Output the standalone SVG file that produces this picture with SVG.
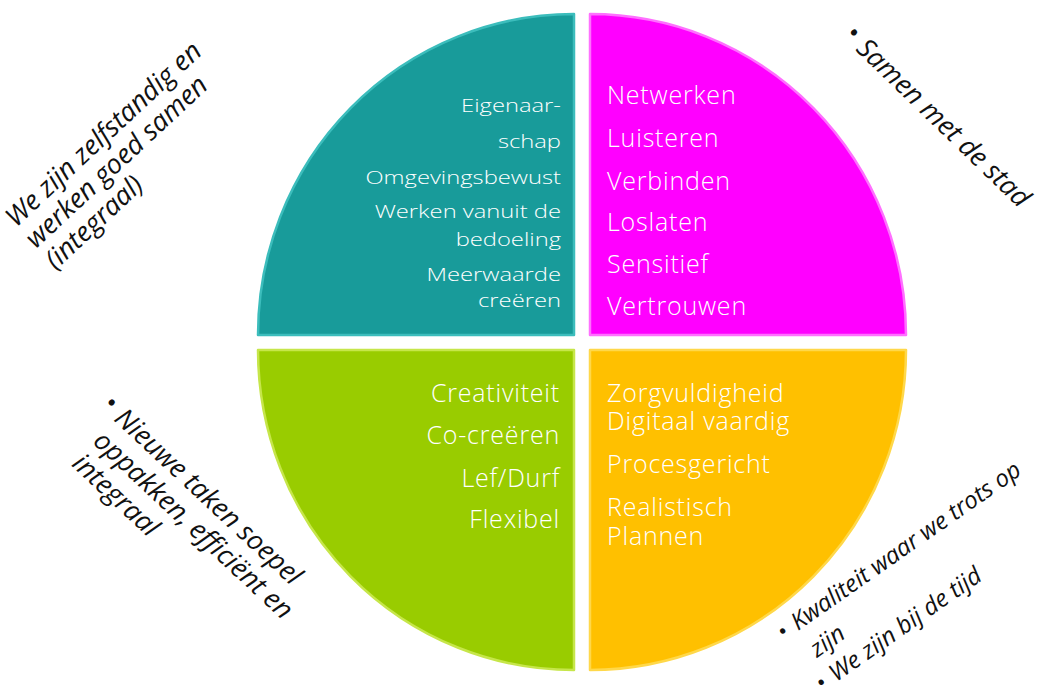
<svg xmlns="http://www.w3.org/2000/svg" width="1054" height="695" viewBox="0 0 1054 695">
<style>
.q{stroke-width:2.5;stroke-linejoin:round}
.lbl{font-family:"Open Sans","Noto Sans","Liberation Sans",sans-serif;fill:#ffffff;font-size:25px;font-weight:300;letter-spacing:0.8px}
.r{text-anchor:end}
.tl{font-size:19px;letter-spacing:0}
.note{font-family:"Open Sans","Noto Sans","Liberation Sans",sans-serif;fill:#111111;font-style:italic;font-size:27px}
.b{font-style:normal}
</style>
<rect width="1054" height="695" fill="#ffffff"/>
<g id="connectors"></g>
<g id="teal">
<path class="q" d="M574,335 L258,335 A316,321 0 0 1 574,14 Z" fill="#189b9a" stroke="#3cbdbc"/>
<g transform="translate(561,0) scale(1.25,1)">
<text class="lbl tl r" x="0" y="112">Eigenaar-</text>
<text class="lbl tl r" x="0" y="148">schap</text>
<text class="lbl tl r" x="0" y="184">Omgevingsbewust</text>
<text class="lbl tl r" x="0" y="218">Werken vanuit de</text>
<text class="lbl tl r" x="0" y="246">bedoeling</text>
<text class="lbl tl r" x="0" y="281">Meerwaarde</text>
<text class="lbl tl r" x="0" y="307">creëren</text>
</g>
</g>
<g id="magenta">
<path class="q" d="M590,335 L590,14 A316,321 0 0 1 906,335 Z" fill="#ff00ff" stroke="#ff70ff"/>
<text class="lbl" x="607" y="104">Netwerken</text>
<text class="lbl" x="607" y="147">Luisteren</text>
<text class="lbl" x="607" y="190">Verbinden</text>
<text class="lbl" x="607" y="231">Loslaten</text>
<text class="lbl" x="607" y="273">Sensitief</text>
<text class="lbl" x="607" y="315">Vertrouwen</text>
</g>
<g id="green">
<path class="q" d="M574,350 L574,670 A316,320 0 0 1 258,350 Z" fill="#99cc00" stroke="#c6e64a"/>
<text class="lbl r" x="560" y="402">Creativiteit</text>
<text class="lbl r" x="560" y="444">Co-creëren</text>
<text class="lbl r" x="560" y="487">Lef/Durf</text>
<text class="lbl r" x="560" y="528">Flexibel</text>
</g>
<g id="yellow">
<path class="q" d="M590,350 L906,350 A316,320 0 0 1 590,670 Z" fill="#ffc000" stroke="#ffd84a"/>
<text class="lbl" x="607" y="402">Zorgvuldigheid</text>
<text class="lbl" x="607" y="430">Digitaal vaardig</text>
<text class="lbl" x="607" y="473">Procesgericht</text>
<text class="lbl" x="607" y="516">Realistisch</text>
<text class="lbl" x="607" y="545">Plannen</text>
</g>
<g id="note-topleft" transform="translate(16,228) rotate(-43)">
<text class="note" x="0" y="0">We zijn zelfstandig en</text>
<text class="note" x="0" y="29">werken goed samen</text>
<text class="note" x="0" y="58">(integraal)</text>
</g>
<g id="note-topright" transform="translate(855,50) rotate(44)">
<text class="note b" x="-18" y="-2">•</text>
<text class="note" x="0" y="0">Samen met de stad</text>
</g>
<g id="note-bottomleft" transform="translate(113,420) rotate(43)">
<text class="note b" x="-18" y="-2">•</text>
<text class="note" x="0" y="0">Nieuwe taken soepel</text>
<text class="note" x="0" y="31">oppakken, efficiënt en</text>
<text class="note" x="0" y="62">integraal</text>
</g>
<g id="note-bottomright" transform="translate(798,631) rotate(-35)">
<text class="note b" style="font-size:24px" x="-17" y="0">•</text>
<text class="note" style="font-size:24px" x="0" y="0">Kwaliteit waar we trots op</text>
<text class="note" style="font-size:24px" x="0" y="33">zijn</text>
<text class="note b" style="font-size:24px" x="-15" y="64">•</text>
<text class="note" style="font-size:24px" x="2" y="64">We zijn bij de tijd</text>
</g>
</svg>
